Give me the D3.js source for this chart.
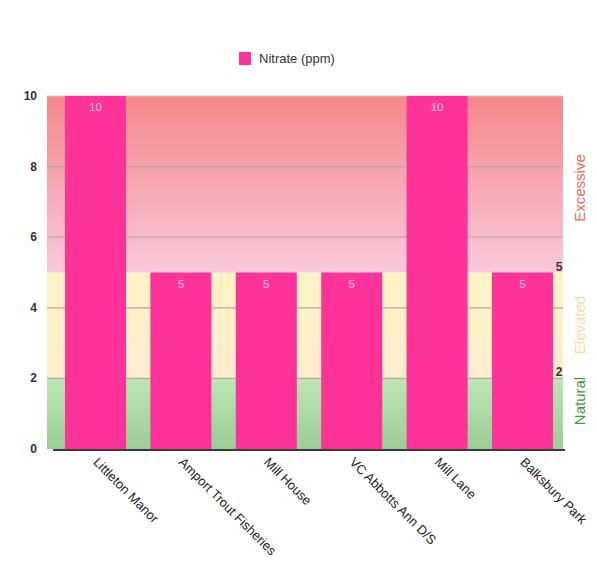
<!DOCTYPE html>
<html>
<head>
<meta charset="utf-8">
<script src="https://cdn.jsdelivr.net/npm/d3@7"></script>
<style>
  body { margin: 0; background: #fff; }
  text { font-family: "Liberation Sans", Arial, sans-serif; }
</style>
</head>
<body>
<svg id="chart" width="597" height="585"></svg>
<script>
// Nitrate readings per sampling site
const sites = ["Littleton Manor", "Amport Trout Fisheries", "Mill House", "VC Abbotts Ann D/S", "Mill Lane", "Balksbury Park"];
const nitrate = [10, 5, 5, 5, 10, 5];
const yTicks = [0, 2, 4, 6, 8, 10];
// Quality bands (ppm)
const bandNames = ["Natural", "Elevated", "Excessive"];
const bandLimits = [0, 2, 5, 10];
const bandLabelColors = ["#3c9a3c", "#f6dba6", "#ec6a50"];
const thresholdLabels = [2, 5];

const svg = d3.select("#chart");
const plot = { left: 47, right: 563, top: 96, bottom: 449 };

const x = d3.scaleBand().domain(sites).range([53, 565]).paddingInner(0.285).paddingOuter(0.14);
const y = d3.scaleLinear().domain([0, 10]).range([plot.bottom, plot.top]);

// gradients for the band backgrounds
const defs = svg.append("defs");
const gEx = defs.append("linearGradient").attr("id", "gEx").attr("x1", 0).attr("x2", 0).attr("y1", 0).attr("y2", 1);
gEx.append("stop").attr("offset", "0%").attr("stop-color", "#f4878a");
gEx.append("stop").attr("offset", "100%").attr("stop-color", "#f9c9db");
const gEl = defs.append("linearGradient").attr("id", "gEl").attr("x1", 0).attr("x2", 0).attr("y1", 0).attr("y2", 1);
gEl.append("stop").attr("offset", "0%").attr("stop-color", "#fdf3c4");
gEl.append("stop").attr("offset", "100%").attr("stop-color", "#fdeccd");
const gNa = defs.append("linearGradient").attr("id", "gNa").attr("x1", 0).attr("x2", 0).attr("y1", 0).attr("y2", 1);
gNa.append("stop").attr("offset", "0%").attr("stop-color", "#bde6b4");
gNa.append("stop").attr("offset", "100%").attr("stop-color", "#9bcd96");
const fills = ["url(#gNa)", "url(#gEl)", "url(#gEx)"];

svg.append("g").selectAll("rect").data(bandNames).join("rect")
  .attr("x", plot.left)
  .attr("width", plot.right - plot.left)
  .attr("y", (d, i) => y(bandLimits[i + 1]))
  .attr("height", (d, i) => y(bandLimits[i]) - y(bandLimits[i + 1]))
  .attr("fill", (d, i) => fills[i]);

// gridlines
svg.append("g").selectAll("line").data(yTicks.filter(t => t > 0)).join("line")
  .attr("x1", plot.left).attr("x2", plot.right)
  .attr("y1", d => y(d)).attr("y2", d => y(d))
  .attr("stroke", d => d === 10 ? "#d8c8c8" : "#b3a7a7")
  .attr("stroke-width", 1.2);

// y axis labels
svg.append("g").selectAll("text").data(yTicks).join("text")
  .attr("x", 37).attr("y", d => y(d) + 4)
  .attr("text-anchor", "end")
  .attr("font-size", 12).attr("font-weight", "bold").attr("fill", "#333")
  .text(d => d);

// bars
svg.append("g").selectAll("rect").data(sites).join("rect")
  .attr("x", d => x(d))
  .attr("width", x.bandwidth())
  .attr("y", (d, i) => y(nitrate[i]))
  .attr("height", (d, i) => y(0) - y(nitrate[i]))
  .attr("fill", "#fe3399");

// value labels
svg.append("g").selectAll("text").data(sites).join("text")
  .attr("x", d => x(d) + x.bandwidth() / 2)
  .attr("y", (d, i) => y(nitrate[i]) + 15)
  .attr("text-anchor", "middle")
  .attr("font-size", 11.5).attr("fill", "#fbc7df")
  .text((d, i) => nitrate[i]);

// x axis baseline
svg.append("line")
  .attr("x1", 53).attr("x2", 565)
  .attr("y1", plot.bottom + 1).attr("y2", plot.bottom + 1)
  .attr("stroke", "#3a3a3a").attr("stroke-width", 2);

// category labels, rotated
svg.append("g").selectAll("text").data(sites).join("text")
  .attr("transform", d => `translate(${x(d) + x.bandwidth() / 2 - 3},${plot.bottom + 14}) rotate(45)`)
  .attr("font-size", 13).attr("fill", "#222")
  .text(d => d);

// threshold labels on the right edge
svg.append("g").selectAll("text").data(thresholdLabels).join("text")
  .attr("x", 559).attr("y", d => y(d) - 2)
  .attr("text-anchor", "middle")
  .attr("font-size", 12).attr("font-weight", "bold").attr("fill", "#333")
  .text(d => d);

// band names, rotated
const bandLabelY = [401, 325, 188];
svg.append("g").selectAll("text").data(bandNames).join("text")
  .attr("transform", (d, i) => `translate(585,${bandLabelY[i]}) rotate(-90)`)
  .attr("text-anchor", "middle")
  .attr("font-size", 15).attr("fill", (d, i) => bandLabelColors[i])
  .text(d => d);

// legend
svg.append("rect").attr("x", 239).attr("y", 52).attr("width", 12).attr("height", 13).attr("fill", "#fe3399");
svg.append("text").attr("x", 259).attr("y", 63)
  .attr("font-size", 13).attr("fill", "#333")
  .text("Nitrate (ppm)");
</script>
</body>
</html>
